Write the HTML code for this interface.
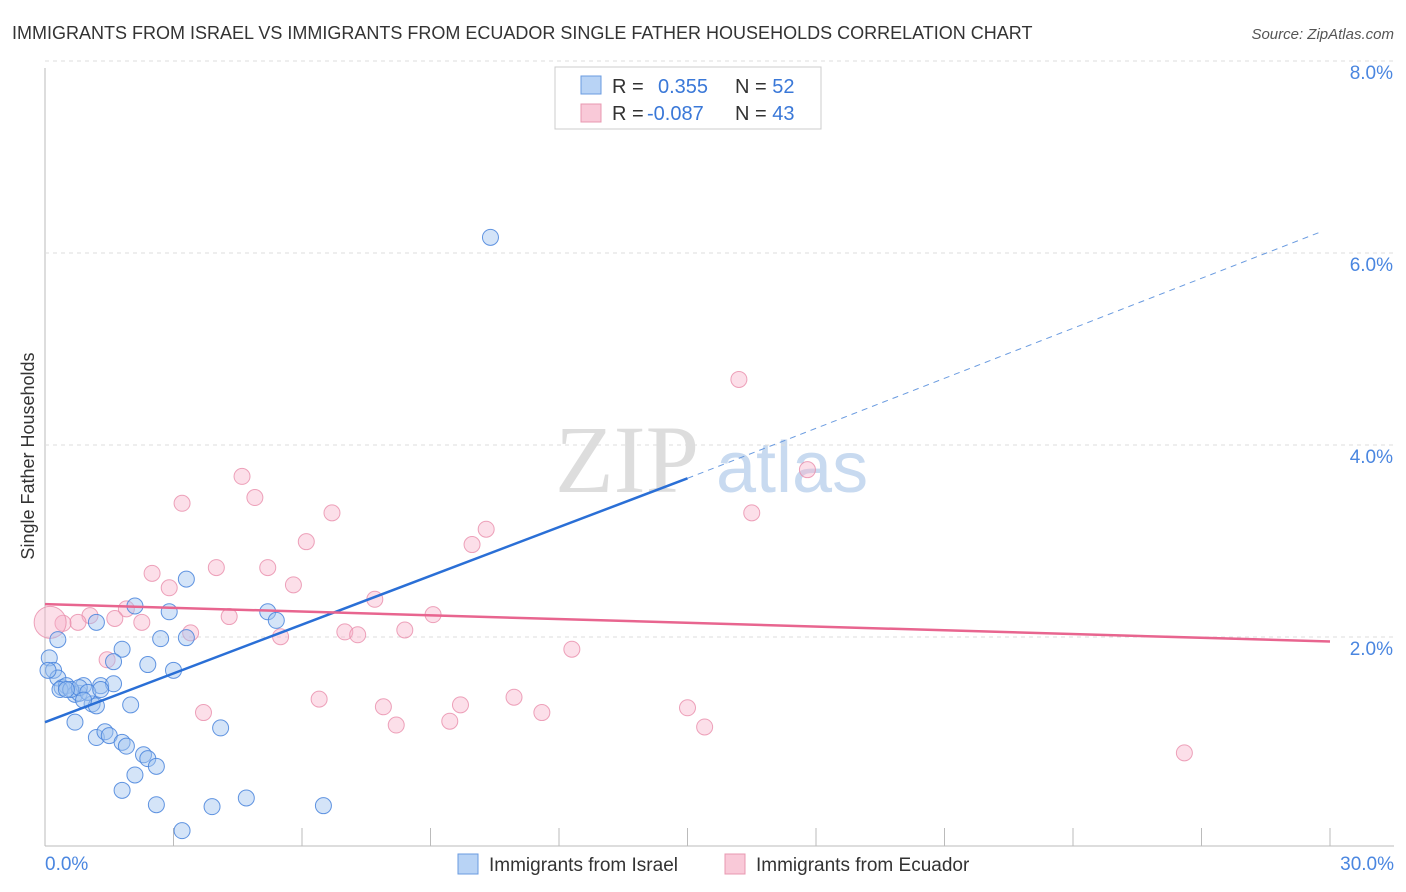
<!DOCTYPE html>
<html><head><meta charset="utf-8"><style>
body{margin:0;background:#fff;font-family:"Liberation Sans",sans-serif;}
svg{display:block}
</style></head><body>
<svg width="1406" height="892" id="svg">
<text x="12" y="39" font-size="18" fill="#333">IMMIGRANTS FROM ISRAEL VS IMMIGRANTS FROM ECUADOR SINGLE FATHER HOUSEHOLDS CORRELATION CHART</text>
<text x="1394" y="39" font-size="15" fill="#555" font-style="italic" text-anchor="end">Source: ZipAtlas.com</text>
<text x="555" y="492" font-size="96" fill="#ddd" font-family="Liberation Serif">ZIP</text>
<text x="716" y="492" font-size="72" fill="#c8daf0">atlas</text>
<g id="grid"></g>
<g id="marks"></g>
<text x="34" y="456" font-size="18" fill="#333" text-anchor="middle" transform="rotate(-90 34 456)">Single Father Households</text>
<g>
<rect x="555" y="67" width="266" height="62" fill="#fff" stroke="#ccc"/>
<rect x="581" y="76" width="20" height="18" fill="#b8d3f5" stroke="#6a9be0"/>
<rect x="581" y="104" width="20" height="18" fill="#f9c9d8" stroke="#e898b0"/>
<text x="612" y="93" font-size="20" fill="#333">R = <tspan fill="#3a78d8" x="658">0.355</tspan><tspan x="735" fill="#333">N = </tspan><tspan fill="#3a78d8">52</tspan></text>
<text x="612" y="120" font-size="20" fill="#333">R = <tspan fill="#3a78d8" x="647">-0.087</tspan><tspan x="735" fill="#333">N = </tspan><tspan fill="#3a78d8">43</tspan></text>
</g>
<g>
<rect x="458" y="854" width="20" height="20" fill="#b8d3f5" stroke="#6a9be0"/>
<text x="489" y="871" font-size="19" fill="#333">Immigrants from Israel</text>
<rect x="725" y="854" width="20" height="20" fill="#f9c9d8" stroke="#e898b0"/>
<text x="756" y="871" font-size="19" fill="#333">Immigrants from Ecuador</text>
</g>
</svg>
<script>
const yTicks=[2,4,6,8];
const xTickLabels=["0.0%","30.0%"];
const israelX=[10.4,3.3,2.1,2.9,1.2,5.2,5.4,2.7,3.3,0.3,1.8,0.1,1.6,2.4,3.0,0.2,0.3,0.4,0.5,0.7,0.8,0.9,1.1,1.2,1.3,1.6,2.0,0.7,4.1,1.2,1.4,1.5,1.8,1.9,2.3,2.4,2.6,2.1,1.8,2.6,3.9,4.7,6.5,3.2,0.07,0.35,0.6,0.8,1.0,0.9,1.3,0.5];
const israelY=[6.34,2.78,2.5,2.44,2.33,2.44,2.35,2.16,2.17,2.15,2.05,1.96,1.92,1.89,1.83,1.83,1.75,1.65,1.67,1.58,1.59,1.67,1.48,1.46,1.67,1.69,1.47,1.29,1.23,1.13,1.19,1.15,1.08,1.04,0.95,0.91,0.83,0.74,0.58,0.43,0.41,0.5,0.42,0.16,1.83,1.63,1.63,1.65,1.6,1.52,1.63,1.63];
const ecuadorX=[16.2,17.8,4.6,3.2,4.9,6.7,16.5,10.3,9.97,6.1,4.0,5.2,2.5,2.9,5.8,7.7,1.9,1.05,0.77,0.42,1.63,2.26,9.06,4.3,3.4,7.0,7.3,8.4,5.5,12.3,1.45,6.4,10.95,3.7,9.7,11.6,7.9,15.0,9.45,8.2,15.4,26.6,0.12];
const ecuadorY=[4.86,3.92,3.85,3.57,3.63,3.47,3.47,3.3,3.14,3.17,2.9,2.9,2.84,2.69,2.72,2.57,2.47,2.4,2.33,2.32,2.37,2.33,2.41,2.39,2.22,2.23,2.2,2.25,2.18,2.05,1.94,1.53,1.55,1.39,1.47,1.39,1.45,1.44,1.30,1.26,1.24,0.97,2.33];
const israelTrend=[0,1.29,15,3.83,29.8,6.4];
const ecuadorTrend=[0,2.52,30,2.13];
const NS="http://www.w3.org/2000/svg";
const X=v=>45+v/30*1285, Y=v=>846-v*96;
const grid=document.getElementById('grid'), marks=document.getElementById('marks');
function mk(tag,attrs,parent){const e=document.createElementNS(NS,tag);for(const k in attrs)e.setAttribute(k,attrs[k]);parent.appendChild(e);return e;}
let ax=mk('line',{x1:45,y1:68,x2:45,y2:846,stroke:'#bbb'},grid);


let bx=mk('line',{x1:45,y1:846,x2:1394,y2:846,stroke:'#bbb'},grid);


yTicks.forEach(t=>{
 let l=mk('line',{x1:45,x2:1394,y1:Y(t)-17,y2:Y(t)-17,stroke:'#ddd','stroke-dasharray':'4,4'},grid);
 
 
 let tx=mk('text',{x:1393,y:Y(t)+1,'font-size':19,fill:'#4a86e0','text-anchor':'end'},grid);
 tx.textContent=t.toFixed(1)+'%';
 
 
});
for(let i=0;i<=10;i++){
 let l=mk('line',{x1:X(i*3),x2:X(i*3),y1:828,y2:846,stroke:'#bbb'},grid);
 
 
}
xTickLabels.forEach((s,i)=>{
 let tx=mk('text',{x:i?1394:45,y:870,'font-size':19,fill:'#4a86e0','text-anchor':i?'end':'start'},grid);
 tx.textContent=s;
 
 
});
ecuadorX.forEach((x,i)=>{
 let c=mk('circle',{cx:X(x),cy:Y(ecuadorY[i]),r:i==ecuadorX.length-1?16:8,fill:'rgba(247,176,199,0.4)',stroke:'rgba(232,140,170,0.8)'},marks);
 
 
});
israelX.forEach((x,i)=>{
 let c=mk('circle',{cx:X(x),cy:Y(israelY[i]),r:8,fill:'rgba(160,196,240,0.45)',stroke:'rgba(70,130,220,0.85)'},marks);
 
 
});
let t=israelTrend;
let l1=mk('line',{x1:X(t[0]),y1:Y(t[1]),x2:X(t[2]),y2:Y(t[3]),stroke:'#2a6fd6','stroke-width':2.5},marks);


let l2=mk('line',{x1:X(t[2]),y1:Y(t[3]),x2:X(t[4]),y2:Y(t[5]),stroke:'#6a9be0','stroke-width':1,'stroke-dasharray':'6,5'},marks);


let e=ecuadorTrend;
let l3=mk('line',{x1:X(e[0]),y1:Y(e[1]),x2:X(e[2]),y2:Y(e[3]),stroke:'#e8658f','stroke-width':2.5},marks);


</script>
</body></html>
